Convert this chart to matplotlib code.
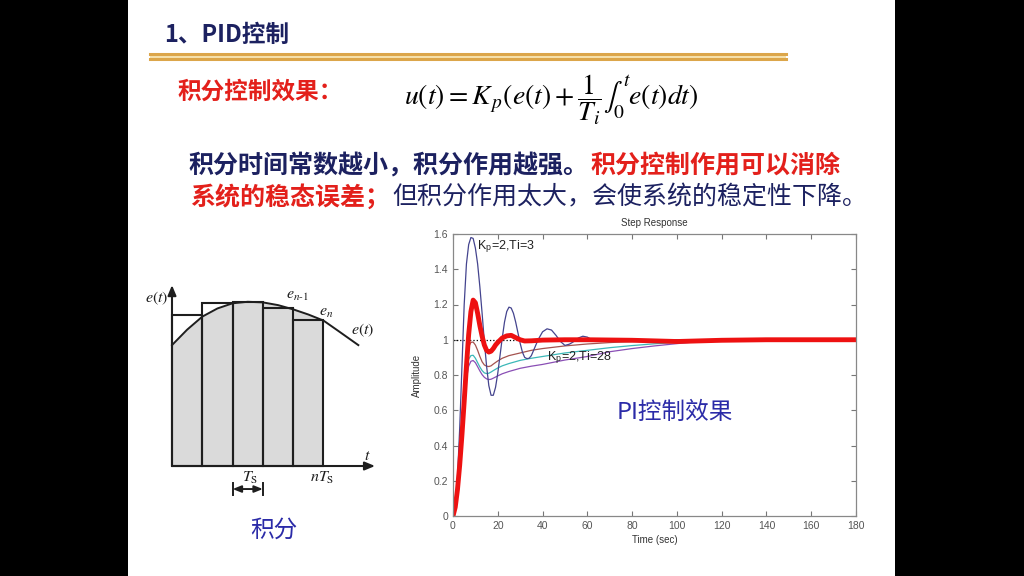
import matplotlib
matplotlib.use("Agg")
import matplotlib.pyplot as plt
import numpy as np
from matplotlib.patches import Rectangle
from matplotlib.lines import Line2D

plt.rcParams['font.family'] = ['Noto Sans CJK SC', 'DejaVu Sans']
plt.rcParams['mathtext.fontset'] = 'stix'

# Step response curves (time in sec, amplitude)
t_red = [0, 1, 2, 3, 4, 5, 6, 7, 8, 9, 10, 11, 12, 13, 14, 15, 16, 17, 18,
         19, 20, 22, 24, 26, 28, 30, 32, 35, 40, 50, 60, 80, 100, 120, 140,
         160, 180]
y_red = [0, 0.05, 0.15, 0.29, 0.46, 0.65, 0.85, 1.03, 1.16, 1.225, 1.21,
         1.15, 1.08, 1.02, 0.97, 0.94, 0.93, 0.935, 0.95, 0.97, 0.985, 1.01,
         1.022, 1.025, 1.012, 1.0, 0.993, 0.994, 0.998, 1.0, 1.0, 0.997,
         0.99, 0.997, 1.0, 1.0, 1.0]

t_ti3 = [0, 1, 2, 3, 4, 5, 6, 7, 8, 9, 10, 11, 12, 13, 14, 15, 16, 17, 18,
         19, 20, 21, 22, 23, 24, 25, 26, 27, 28, 29, 30, 31, 32, 33, 34, 35,
         36, 38, 40, 42, 44, 46, 48, 50, 52, 54, 56, 58, 60, 62, 66, 70, 74,
         80, 100, 120]
y_ti3 = [0, 0.06, 0.22, 0.5, 0.85, 1.2, 1.43, 1.54, 1.58, 1.575, 1.52,
         1.43, 1.3, 1.15, 0.99, 0.85, 0.74, 0.685, 0.685, 0.73, 0.81, 0.91,
         1.01, 1.1, 1.16, 1.185, 1.18, 1.15, 1.1, 1.04, 0.98, 0.93, 0.9,
         0.893, 0.895, 0.91, 0.94, 1.0, 1.045, 1.062, 1.055, 1.025, 0.99,
         0.968, 0.975, 0.99, 1.01, 1.02, 1.015, 1.0, 0.99, 0.995, 1.005, 1.0,
         1.0, 1.0]

t_mid = [0, 1, 2, 3, 4, 5, 6, 7, 8, 9, 10, 11, 12, 13, 14, 15, 16, 17, 18,
         20, 22, 25, 30, 35, 40, 50, 60, 70, 80, 90, 100, 110, 120]
y_brown = [0, 0.04, 0.15, 0.33, 0.55, 0.75, 0.89, 0.96, 0.985, 0.987, 0.97,
           0.94, 0.905, 0.875, 0.857, 0.85, 0.848, 0.852, 0.862, 0.88, 0.895,
           0.91, 0.925, 0.94, 0.95, 0.965, 0.976, 0.984, 0.99, 0.994, 0.997,
           0.999, 1.0]
y_cyan = [0, 0.04, 0.14, 0.31, 0.51, 0.69, 0.82, 0.89, 0.91, 0.912, 0.895,
          0.87, 0.845, 0.825, 0.812, 0.808, 0.81, 0.817, 0.825, 0.84, 0.852,
          0.865, 0.883, 0.895, 0.905, 0.925, 0.94, 0.955, 0.967, 0.977, 0.985,
          0.992, 0.997]
y_ti28 = [0, 0.04, 0.13, 0.29, 0.48, 0.65, 0.78, 0.85, 0.878, 0.882, 0.87,
          0.847, 0.823, 0.802, 0.787, 0.778, 0.774, 0.776, 0.782, 0.795,
          0.807, 0.82, 0.838, 0.85, 0.86, 0.885, 0.905, 0.932, 0.95, 0.965,
          0.978, 0.99, 0.997]

# Rectangle-rule integration sketch
diag_t = [0, 0.5, 1, 1.5, 2, 2.5, 3, 3.5, 4, 4.5, 5, 5.5, 6.15]
diag_e = [3.99, 4.5, 4.93, 5.2, 5.37, 5.42, 5.40, 5.31, 5.17, 5.0, 4.80,
          4.45, 3.99]
bar_left = [0, 1, 2, 3, 4]
bar_height = [5.0, 5.37, 5.42, 5.2, 4.82]

NAVY = '#1c2160'
RED = '#e3201b'
INK = '#1e1e1e'

fig = plt.figure(figsize=(10.24, 5.76), dpi=100, facecolor='black')
fig.add_artist(Rectangle((128 / 1024, 0), 767 / 1024, 1,
                         transform=fig.transFigure, facecolor='white',
                         edgecolor='none', zorder=-10))

# gold double rule under the heading
fig.add_artist(Rectangle((150 / 1024, 1 - 60.5 / 576), 636 / 1024, 7.5 / 576,
                         transform=fig.transFigure, facecolor='#f6e2ae',
                         edgecolor='none', zorder=-5))
for yy in (54.3, 59.2):
    fig.add_artist(Line2D([150 / 1024, 786 / 1024], [1 - yy / 576] * 2,
                          transform=fig.transFigure, color='#dca64a', lw=2.2,
                          zorder=-4))

def ftext(x, y, s, **kw):
    fig.text(x / 1024, 1 - y / 576, s, va='center', ha='left', **kw)

ftext(164, 35, "1、PID控制", fontsize=17, weight='bold', color=NAVY)
ftext(178, 92, "积分控制效果：", fontsize=17, weight='bold', color=RED)
ftext(404, 100, r"$u(t)=K_{\,p}(e(t)+\dfrac{1}{T_i}\int_0^t e(t)dt)$",
      fontsize=20, color='black')
ftext(188, 166, "积分时间常数越小，积分作用越强。", fontsize=18,
      weight='bold', color=NAVY)
ftext(590, 166, "积分控制作用可以消除", fontsize=18, weight='bold', color=RED)
ftext(190, 197, "系统的稳态误差；", fontsize=18, weight='bold', color=RED)
ftext(392, 197, "但积分作用太大，会使系统的稳定性下降。", fontsize=18,
      color=NAVY)
ftext(250, 530, "积分", fontsize=17, color='#2b2ba8')

# ---- integration sketch ----
dx = fig.add_axes([130 / 1024, 1 - 510 / 576, 270 / 1024, 240 / 576])
dx.set_xlim(-1.386, 7.525)
dx.set_ylim(-1.452, 6.469)
dx.axis('off')
n_fill = diag_t.index(5) + 1
dx.fill_between(diag_t[:n_fill], 0, diag_e[:n_fill], color='#dadada', lw=0)
for x0, h in zip(bar_left, bar_height):
    dx.add_patch(Rectangle((x0, 0), 1, h, facecolor='none',
                           edgecolor=INK, lw=1.5))
dx.plot(diag_t, diag_e, color=INK, lw=1.4)
arrow_kw = dict(arrowstyle='-|>,head_length=0.6,head_width=0.25',
                color=INK, lw=1.5, shrinkA=0, shrinkB=0)
dx.annotate('', xy=(0, 5.97), xytext=(0, 0), arrowprops=arrow_kw)
dx.annotate('', xy=(6.7, 0), xytext=(0, 0), arrowprops=arrow_kw)
dx.annotate('', xy=(2, -0.76), xytext=(3, -0.76),
            arrowprops=dict(arrowstyle='<|-|>,head_length=0.5,head_width=0.2',
                            color=INK, lw=1.4, shrinkA=0, shrinkB=0))
for xv in (2, 3):
    dx.plot([xv, xv], [-0.55, -0.97], color=INK, lw=1.4)
tk = dict(fontsize=11.5, color=INK)
dx.text(-0.12, 5.54, r"$e(t)$", ha='right', va='center', **tk)
dx.text(3.75, 5.66, r"$e_{n\text{-}1}$", ha='left', va='center', **tk)
dx.text(4.85, 5.1, r"$e_n$", ha='left', va='center', **tk)
dx.text(5.9, 4.49, r"$e(t)$", ha='left', va='center', **tk)
dx.text(6.44, 0.36, r"$t$", ha='center', va='center', **tk)
dx.text(2.57, -0.38, r"$T_\mathrm{S}$", ha='center', va='center', **tk)
dx.text(4.95, -0.38, r"$nT_\mathrm{S}$", ha='center', va='center', **tk)

# ---- step response ----
ax = fig.add_axes([453 / 1024, 1 - 516 / 576, 403 / 1024, 282 / 576])
ax.axhline(1, color='black', ls=':', lw=0.9)
ax.plot(t_mid, y_ti28, color='#8a4fb5', lw=0.9)
ax.plot(t_mid, y_cyan, color='#3cb8b8', lw=0.9)
ax.plot(t_mid, y_brown, color='#a4534f', lw=0.9)
ax.plot(t_ti3, y_ti3, color='#44448e', lw=0.9)
ax.plot(t_red, y_red, color='#ee1111', lw=3.5, solid_capstyle='round')
ax.set_xlim(0, 180)
ax.set_ylim(0, 1.6)
ax.set_xticks(np.arange(0, 181, 20))
yt = np.arange(0, 1.61, 0.2)
ax.set_yticks(yt)
ax.set_yticklabels([f"{v:g}" for v in np.round(yt, 1)])
ax.tick_params(direction='in', top=True, right=True, length=3.5,
               color='#777777', labelcolor='#555555', labelsize=7.5)
for lab in ax.get_xticklabels() + ax.get_yticklabels():
    lab.set_family('Liberation Sans')
for sp in ax.spines.values():
    sp.set_color('#888888')
    sp.set_linewidth(0.9)
sm = dict(fontsize=7, family='Liberation Sans', color='#333333')
ax.set_title("Step Response", pad=6, **sm)
ax.set_xlabel("Time (sec)", labelpad=3, **sm)
ax.set_ylabel("Amplitude", labelpad=8, **sm)
lk = dict(fontsize=9, family='Liberation Sans', color='#222222',
          va='center', ha='left')
ax.text(10.5, 1.526, r"K$_\mathregular{p}$=2,Ti=3", **lk)
ax.text(41.8, 0.896, r"K$_\mathregular{p}$=2,Ti=28", **lk)
ax.text(73.2, 0.59, "PI控制效果", fontsize=17, color='#2b2ba8',
        va='center', ha='left')

fig.savefig("out.png", dpi=100, facecolor='black')
